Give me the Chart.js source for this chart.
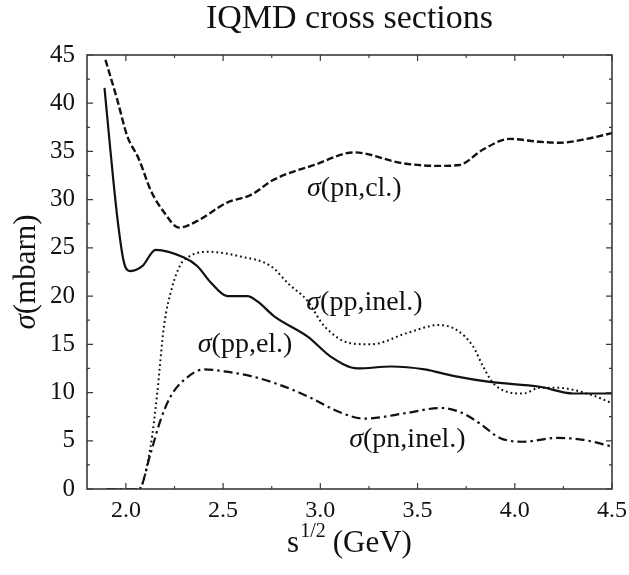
<!DOCTYPE html>
<html>
<head>
<meta charset="utf-8">
<script src="https://cdn.jsdelivr.net/npm/chart.js@4.4.1/dist/chart.umd.min.js"></script>
<style>
  html, body { margin: 0; padding: 0; background: #fff; }
</style>
</head>
<body>
<canvas id="crossChart" width="629" height="575"></canvas>
<script>
// sqrt(s) in GeV, cross sections in mbarn
const pnElX = [1.895, 1.955, 2.007, 2.067, 2.127, 2.196, 2.273, 2.368, 2.52, 2.643, 2.763, 2.969, 3.175, 3.416, 3.613, 3.716, 3.837, 3.974, 4.129, 4.232, 4.37, 4.5];
const pnElY = [44.5, 40.4, 36.6, 34.2, 31.0, 28.7, 27.1, 27.8, 29.7, 30.5, 32.1, 33.6, 34.9, 33.8, 33.5, 33.6, 35.2, 36.3, 36.0, 35.9, 36.3, 36.9];

const ppElX = [1.89, 1.92, 1.955, 1.99, 2.024, 2.084, 2.153, 2.299, 2.368, 2.437, 2.522, 2.625, 2.677, 2.763, 2.935, 3.055, 3.192, 3.364, 3.536, 3.69, 3.871, 4.129, 4.3, 4.5];
const ppElY = [41.6, 35.2, 28.3, 23.5, 22.6, 23.1, 24.8, 24.0, 23.1, 21.4, 20.0, 20.0, 19.45, 17.9, 15.8, 13.7, 12.5, 12.7, 12.4, 11.7, 11.1, 10.6, 9.9, 9.9];

const ppInelX = [1.9, 2.067, 2.127, 2.161, 2.196, 2.239, 2.282, 2.316, 2.419, 2.591, 2.746, 2.84, 2.93, 3.02, 3.158, 3.261, 3.45, 3.61, 3.70, 3.785, 3.837, 3.888, 3.957, 4.043, 4.129, 4.215, 4.387, 4.5];
const ppInelY = [0, 0, 4.4, 9.9, 16.9, 21.0, 23.3, 24.0, 24.6, 24.1, 23.1, 21.2, 19.6, 16.9, 15.1, 15.0, 16.2, 17.0, 16.5, 14.8, 12.7, 11.0, 10.1, 9.9, 10.5, 10.5, 9.8, 8.9];

const pnInelX = [1.9, 2.067, 2.127, 2.179, 2.23, 2.299, 2.402, 2.505, 2.643, 2.763, 2.935, 3.107, 3.227, 3.45, 3.617, 3.716, 3.82, 3.923, 4.043, 4.215, 4.352, 4.5];
const pnInelY = [0, 0, 3.7, 7.2, 9.6, 11.3, 12.4, 12.2, 11.7, 11.0, 9.6, 7.9, 7.3, 7.9, 8.4, 8.0, 6.8, 5.3, 4.9, 5.3, 5.1, 4.4];

const xTicks = [2.0, 2.5, 3.0, 3.5, 4.0, 4.5];
const yTicks = [0, 5, 10, 15, 20, 25, 30, 35, 40, 45];

// curve labels: [process, x, y]
const curveLabels = [
    ['(pn,cl.)', 3.175, 30.4],
    ['(pp,inel.)', 3.227, 18.6],
    ['(pp,el.)', 2.613, 14.2],
    ['(pn,inel.)', 3.448, 4.4]
];

const SERIF = '"Liberation Serif", "DejaVu Serif", serif';

const toPoints = (xs, ys) => xs.map((x, i) => ({ x: x, y: ys[i] }));

// frame, inward ticks on all sides, titles and curve labels
const decorPlugin = {
    id: 'decor',
    afterDraw(chart) {
        const ctx = chart.ctx;
        const a = chart.chartArea;
        const xs = chart.scales.x;
        const ys = chart.scales.y;
        ctx.save();

        ctx.strokeStyle = '#3a3a3a';
        ctx.lineWidth = 1.6;
        ctx.strokeRect(a.left, a.top, a.right - a.left, a.bottom - a.top);

        ctx.lineWidth = 1.2;
        ctx.beginPath();
        for (let v = 2.0; v <= 4.5001; v += 0.25) {
            const px = xs.getPixelForValue(v);
            const len = (Math.round(v * 4) % 2 === 0) ? 6 : 3;
            ctx.moveTo(px, a.bottom); ctx.lineTo(px, a.bottom - len);
            ctx.moveTo(px, a.top); ctx.lineTo(px, a.top + len);
        }
        for (let v = 0; v <= 45.001; v += 2.5) {
            const py = ys.getPixelForValue(v);
            const len = (Math.round(v * 2) % 10 === 0) ? 6 : 3;
            ctx.moveTo(a.left, py); ctx.lineTo(a.left + len, py);
            ctx.moveTo(a.right, py); ctx.lineTo(a.right - len, py);
        }
        ctx.stroke();

        ctx.fillStyle = '#111';
        const cx = (a.left + a.right) / 2;

        // chart title
        ctx.font = '34px ' + SERIF;
        ctx.textAlign = 'center';
        ctx.textBaseline = 'alphabetic';
        ctx.fillText('IQMD cross sections', cx, 28);

        // x axis title: s^{1/2} (GeV)
        ctx.textAlign = 'left';
        ctx.font = '31px ' + SERIF;
        const wS = ctx.measureText('s').width;
        const wG = ctx.measureText('(GeV)').width;
        ctx.font = '20px ' + SERIF;
        const wSup = ctx.measureText('1/2').width;
        const gap = 8;
        let x0 = cx - (wS + wSup + gap + wG) / 2;
        ctx.font = '31px ' + SERIF;
        ctx.fillText('s', x0, 552);
        ctx.font = '20px ' + SERIF;
        ctx.fillText('1/2', x0 + wS + 1, 537);
        ctx.font = '31px ' + SERIF;
        ctx.fillText('(GeV)', x0 + wS + wSup + gap, 552);

        // y axis title: sigma (mbarn)
        ctx.save();
        ctx.translate(35, (a.top + a.bottom) / 2);
        ctx.rotate(-Math.PI / 2);
        ctx.font = 'italic 31px ' + SERIF;
        const wSig = ctx.measureText('σ').width;
        ctx.font = '31px ' + SERIF;
        const wMb = ctx.measureText('(mbarn)').width;
        let y0 = -(wSig + wMb) / 2;
        ctx.font = 'italic 31px ' + SERIF;
        ctx.fillText('σ', y0, 0);
        ctx.font = '31px ' + SERIF;
        ctx.fillText('(mbarn)', y0 + wSig, 0);
        ctx.restore();

        // curve labels
        curveLabels.forEach(([txt, lx, ly]) => {
            ctx.font = 'italic 28px ' + SERIF;
            const w1 = ctx.measureText('σ').width;
            ctx.font = '28px ' + SERIF;
            const w2 = ctx.measureText(txt).width;
            const px = xs.getPixelForValue(lx) - (w1 + w2) / 2;
            const py = ys.getPixelForValue(ly);
            ctx.font = 'italic 28px ' + SERIF;
            ctx.fillText('σ', px, py);
            ctx.font = '28px ' + SERIF;
            ctx.fillText(txt, px + w1, py);
        });

        ctx.restore();
    }
};

const lineStyle = {
    borderColor: '#111',
    pointRadius: 0,
    fill: false,
    cubicInterpolationMode: 'monotone'
};

new Chart(document.getElementById('crossChart').getContext('2d'), {
    type: 'line',
    data: {
        datasets: [
            Object.assign({ label: 'pn,el.', data: toPoints(pnElX, pnElY), borderWidth: 2.4, borderDash: [7, 3] }, lineStyle),
            Object.assign({ label: 'pp,el.', data: toPoints(ppElX, ppElY), borderWidth: 2.2 }, lineStyle),
            Object.assign({ label: 'pp,inel.', data: toPoints(ppInelX, ppInelY), borderWidth: 2, borderDash: [1.8, 3] }, lineStyle),
            Object.assign({ label: 'pn,inel.', data: toPoints(pnInelX, pnInelY), borderWidth: 2.2, borderDash: [9, 4, 2.5, 4] }, lineStyle)
        ]
    },
    options: {
        responsive: false,
        animation: false,
        events: [],
        layout: { padding: { left: 0, right: 17, top: 55, bottom: 0 } },
        plugins: {
            legend: { display: false },
            tooltip: { enabled: false },
            title: { display: false }
        },
        scales: {
            x: {
                type: 'linear',
                min: 1.8,
                max: 4.5,
                grid: { display: false, drawTicks: false },
                border: { display: false },
                afterBuildTicks: (s) => { s.ticks = xTicks.map(v => ({ value: v })); },
                afterFit: (s) => { s.height = 86; s.paddingLeft = 0; s.paddingRight = 0; },
                ticks: {
                    color: '#111',
                    padding: 7,
                    maxRotation: 0,
                    font: { family: SERIF, size: 24 },
                    callback: (v) => v.toFixed(1)
                }
            },
            y: {
                min: 0,
                max: 45,
                grid: { display: false, drawTicks: false },
                border: { display: false },
                afterBuildTicks: (s) => { s.ticks = yTicks.map(v => ({ value: v })); },
                afterFit: (s) => { s.width = 87; s.paddingTop = 0; s.paddingBottom = 0; },
                ticks: {
                    color: '#111',
                    padding: 12,
                    font: { family: SERIF, size: 25 }
                }
            }
        }
    },
    plugins: [decorPlugin]
});
</script>
</body>
</html>
